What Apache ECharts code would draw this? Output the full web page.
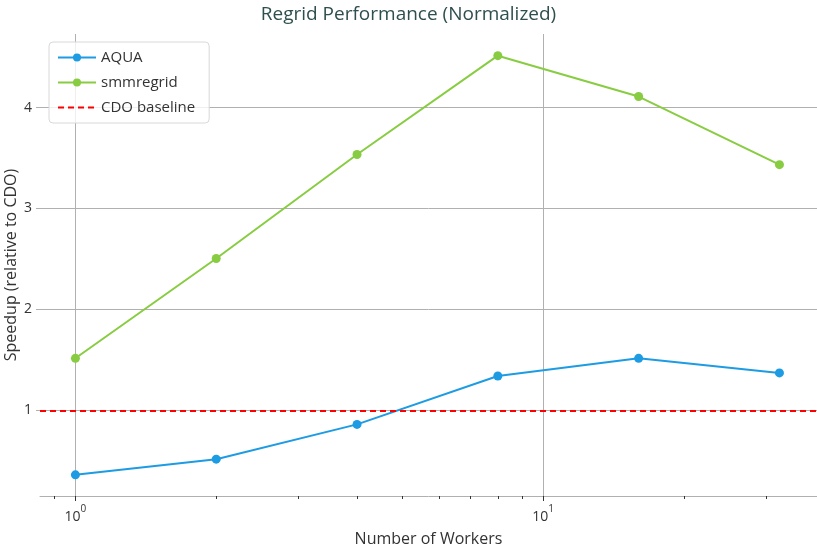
<!DOCTYPE html>
<html>
<head>
<meta charset="utf-8">
<style>
	html,body{margin:0;padding:0;background:#fff;}
	#chart{width:817px;height:546px;}
</style>
</head>
<body>
<div id="chart"></div>
<script src="https://cdn.jsdelivr.net/npm/echarts@6/dist/echarts.min.js"></script>
<script>
var workers = [1, 2, 4, 8, 16, 32];
var aqua = [0.36, 0.515, 0.86, 1.34, 1.515, 1.37];
var smmregrid = [1.515, 2.505, 3.535, 4.515, 4.11, 3.435];
var cdoBaseline = 1;
var xMajorTicks = [1, 10];
var xMinorTicks = [0.9, 2, 3, 4, 5, 6, 7, 8, 9, 20, 30];
var yTicks = [1, 2, 3, 4];

var font = 'Open Sans';
var gridColor = '#b0b0b0';

function pairs(xs, ys){
	return xs.map(function(x, i){ return [x, ys[i]]; });
}

var chart = echarts.init(document.getElementById('chart'));
var option = {
	animation: false,
	textStyle: {fontFamily: font},
	title: {
		text: 'Regrid Performance (Normalized)',
		left: 'center',
		top: 0,
		textStyle: {fontFamily: font, fontSize: 19, fontWeight: 'normal', color: '#2f4f4f'}
	},
	legend: {
		orient: 'vertical',
		left: 49,
		top: 42,
		padding: [8, 14, 8, 8],
		itemGap: 10,
		itemWidth: 38,
		itemHeight: 10,
		backgroundColor: 'rgba(255,255,255,0.8)',
		borderColor: '#d8d8d8',
		borderWidth: 1,
		borderRadius: 4,
		textStyle: {fontFamily: font, fontSize: 15, color: '#333'},
		data: ['AQUA', 'smmregrid', {name: 'CDO baseline', itemStyle: {opacity: 0}}]
	},
	grid: {left: 40, right: 0, top: 34, bottom: 50, containLabel: false, outerBoundsMode: 'none'},
	xAxis: [{
		type: 'log',
		logBase: 10,
		min: 0.84,
		max: 38.5,
		name: 'Number of Workers',
		nameLocation: 'middle',
		nameGap: 35,
		nameMoveOverlap: false,
		nameTextStyle: {fontFamily: font, fontSize: 16, color: '#333'},
		axisLine: {show: true, lineStyle: {color: gridColor, width: 1}},
		axisTick: {show: true, length: 5, customValues: xMajorTicks, lineStyle: {color: '#333'}},
		axisLabel: {
			customValues: xMajorTicks,
			margin: 8,
			formatter: function(v){
				return '{b|10}{s|' + Math.round(Math.log10(v)) + '}';
			},
			rich: {
				b: {fontFamily: font, fontSize: 14, color: '#333', padding: [6, 0, 0, 0]},
				s: {fontFamily: font, fontSize: 10, color: '#333', verticalAlign: 'top', padding: [0, 0, 6, 0]}
			}
		},
		splitLine: {show: true, lineStyle: {color: gridColor, width: 1}}
	}, {
		type: 'log',
		logBase: 10,
		min: 0.84,
		max: 38.5,
		position: 'bottom',
		axisLine: {show: false},
		axisTick: {show: true, length: 3, customValues: xMinorTicks, lineStyle: {color: '#333'}},
		axisLabel: {show: false},
		splitLine: {show: false}
	}],
	yAxis: {
		type: 'value',
		min: 0.15,
		max: 4.73,
		name: 'Speedup (relative to CDO)',
		nameLocation: 'middle',
		nameGap: 21,
		nameMoveOverlap: false,
		nameTextStyle: {fontFamily: font, fontSize: 16, color: '#333'},
		axisLine: {show: false},
		axisTick: {show: true, length: 4, customValues: yTicks, lineStyle: {color: gridColor}},
		axisLabel: {customValues: yTicks, margin: 8, fontFamily: font, fontSize: 14, color: '#333'},
		splitLine: {show: true, lineStyle: {color: gridColor, width: 1}}
	},
	series: [{
		name: 'AQUA',
		type: 'line',
		data: pairs(workers, aqua),
		symbol: 'circle',
		symbolSize: 9,
		itemStyle: {color: '#1d9be3'},
		lineStyle: {color: '#1d9be3', width: 2},
		z: 3
	}, {
		name: 'smmregrid',
		type: 'line',
		data: pairs(workers, smmregrid),
		symbol: 'circle',
		symbolSize: 9,
		itemStyle: {color: '#88cc42'},
		lineStyle: {color: '#88cc42', width: 2},
		z: 3
	}, {
		name: 'CDO baseline',
		type: 'line',
		data: [],
		symbol: 'none',
		itemStyle: {color: '#ff0000'},
		lineStyle: {color: '#ff0000', width: 2, type: [6, 4]},
		markLine: {
			silent: true,
			symbol: 'none',
			label: {show: false},
			lineStyle: {color: '#ff0000', width: 2, type: [6, 4]},
			data: [{yAxis: cdoBaseline}]
		},
		z: 4
	}]
};
chart.setOption(option);
</script>
</body>
</html>
